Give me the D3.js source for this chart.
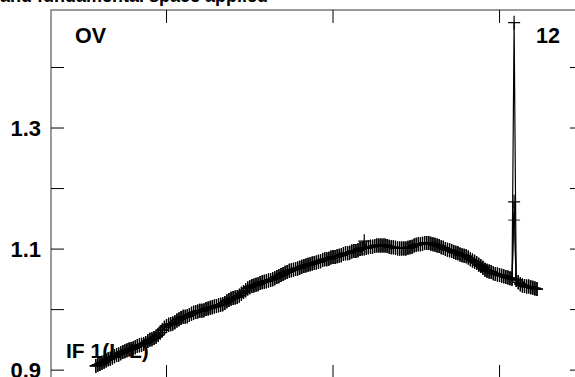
<!DOCTYPE html>
<html>
<head>
<meta charset="utf-8">
<script src="https://cdn.jsdelivr.net/npm/d3@7"></script>
<style>
    html, body { margin: 0; padding: 0; background: #fff; overflow: hidden; }
    text { font-family: "Liberation Sans", Arial, sans-serif; font-weight: bold; fill: #000; }
</style>
</head>
<body>
<div id="chart"></div>
<script>
// first channel on the x axis; one value per channel after that
const firstChannel = 46;

// ratio values (shared by the overlaid curves)
const ratio = [
    0.907, 0.909, 0.910, 0.912, 0.914, 0.916, 0.918, 0.919, 0.921, 0.923,
    0.925, 0.926, 0.928, 0.930, 0.931, 0.933, 0.934, 0.935, 0.936, 0.938,
    0.940, 0.941, 0.942, 0.943, 0.945, 0.948, 0.950, 0.951, 0.953, 0.955,
    0.958, 0.962, 0.966, 0.970, 0.973, 0.975, 0.976, 0.977, 0.979, 0.982,
    0.984, 0.986, 0.988, 0.988, 0.989, 0.991, 0.993, 0.995, 0.996, 0.997,
    0.998, 0.998, 0.999, 1.001, 1.002, 1.003, 1.004, 1.005, 1.006, 1.007,
    1.008, 1.009, 1.011, 1.014, 1.016, 1.018, 1.019, 1.020, 1.021, 1.023,
    1.026, 1.029, 1.032, 1.035, 1.037, 1.039, 1.040, 1.041, 1.042, 1.044,
    1.045, 1.046, 1.047, 1.048, 1.049, 1.050, 1.052, 1.054, 1.055, 1.057,
    1.059, 1.061, 1.062, 1.064, 1.065, 1.066, 1.067, 1.068, 1.069, 1.071,
    1.072, 1.073, 1.074, 1.075, 1.076, 1.077, 1.078, 1.079, 1.080, 1.082,
    1.083, 1.083, 1.084, 1.086, 1.087, 1.087, 1.088, 1.089, 1.090, 1.092,
    1.093, 1.093, 1.094, 1.096, 1.097, 1.097, 1.098, 1.100, 1.101, 1.101,
    1.102, 1.103, 1.104, 1.104, 1.105, 1.106, 1.106, 1.106, 1.106, 1.106,
    1.105, 1.104, 1.103, 1.103, 1.102, 1.101, 1.101, 1.101, 1.101, 1.101,
    1.102, 1.103, 1.104, 1.106, 1.107, 1.108, 1.108, 1.109, 1.110, 1.110,
    1.110, 1.109, 1.108, 1.107, 1.106, 1.105, 1.103, 1.102, 1.100, 1.099,
    1.098, 1.097, 1.095, 1.094, 1.093, 1.091, 1.090, 1.089, 1.088, 1.086,
    1.083, 1.081, 1.079, 1.077, 1.074, 1.072, 1.069, 1.066, 1.064, 1.063,
    1.062, 1.060, 1.059, 1.058, 1.057, 1.056, 1.055, 1.054, 1.053, 1.052,
    1.051, 1.050, 1.049, 1.045, 1.042, 1.040, 1.039, 1.038, 1.038, 1.037,
    1.036, 1.035, 1.034
];

// the three curves only differ where they jump away from the common values
const seriesNames = ["a", "b", "c"];
const seriesOverrides = [
    { 247: 1.474 },
    { 247: 1.178, 175: 1.113 },
    { 247: 1.148 }
];
const seriesColors = ["#000", "#000", "#555"];

const xTicks = [80, 160, 240];
const yTicks = [0.9, 1.0, 1.1, 1.2, 1.3, 1.4];
const yLabels = { 0.9: "0.9", 1.1: "1.1", 1.3: "1.3" };

const titleText = "and fundamental space applied";
const cornerLeft = "OV";
const cornerRight = "12";
const bottomNote = "IF 1(L-L)";

const width = 575, height = 377;
const margin = { top: 10, left: 51, right: -8, bottom: -1 };

const svg = d3.select("#chart").append("svg")
    .attr("width", width)
    .attr("height", height);

const x = d3.scaleLinear().domain([24.5, 280.1]).range([margin.left, width - margin.right]);
const y = d3.scaleLinear().domain([0.887, 1.495]).range([height - margin.bottom, margin.top]);

const x0 = margin.left, x1 = width - margin.right;
const y0 = margin.top, y1 = height - margin.bottom;

// title, mostly cut off at the top of the picture
svg.append("text")
    .attr("x", 0)
    .attr("y", 1.5)
    .style("font-size", "18px")
    .text(titleText);

// frame
svg.append("path")
    .attr("d", `M${x0},${y1}V${y0}H${x1}V${y1}H${x0}`)
    .attr("fill", "none")
    .attr("stroke", "#7a7a7a")
    .attr("stroke-width", 1.5);

// ticks pointing inwards on all four sides
const tickLen = 13;
const ticks = svg.append("g").attr("stroke", "#000").attr("stroke-width", 1);
xTicks.forEach(t => {
    ticks.append("line").attr("x1", x(t)).attr("x2", x(t)).attr("y1", y0).attr("y2", y0 + tickLen);
    ticks.append("line").attr("x1", x(t)).attr("x2", x(t)).attr("y1", y1).attr("y2", y1 - tickLen);
});
yTicks.forEach(t => {
    ticks.append("line").attr("x1", x0).attr("x2", x0 + tickLen).attr("y1", y(t)).attr("y2", y(t));
    ticks.append("line").attr("x1", x1).attr("x2", x1 - tickLen).attr("y1", y(t)).attr("y2", y(t));
});

// y labels
svg.append("g").selectAll("text")
    .data(yTicks.filter(t => yLabels[t]))
    .join("text")
    .attr("x", x0 - 10)
    .attr("y", d => y(d))
    .attr("dy", "0.36em")
    .attr("text-anchor", "end")
    .style("font-size", "22px")
    .text(d => yLabels[d]);

// curves with + markers
const line = d3.line().x(d => x(d.ch)).y(d => y(d.v));
const plus = "M-6,0H6M0,-7V7";

seriesNames.slice().reverse().forEach((name, k) => {
    const i = seriesNames.length - 1 - k;
    const pts = ratio.map((v, j) => {
        const ch = firstChannel + j;
        return { ch: ch, v: seriesOverrides[i][ch] !== undefined ? seriesOverrides[i][ch] : v };
    });
    const g = svg.append("g").attr("class", "series-" + name);

    g.append("path")
        .datum(pts)
        .attr("d", line)
        .attr("fill", "none")
        .attr("stroke", seriesColors[i])
        .attr("stroke-width", 1.2);

    g.selectAll("path.mark")
        .data(pts)
        .join("path")
        .attr("class", "mark")
        .attr("transform", d => `translate(${x(d.ch)},${y(d.v)})`)
        .attr("d", plus)
        .attr("fill", "none")
        .attr("stroke", seriesColors[i])
        .attr("stroke-width", 1.2);
});

// corner notes
svg.append("text").attr("x", 75).attr("y", 42.5).style("font-size", "21.5px").text(cornerLeft);
svg.append("text").attr("x", 536).attr("y", 42.5).style("font-size", "21.5px").text(cornerRight);
svg.append("text").attr("x", 66).attr("y", 358).style("font-size", "21px").text(bottomNote);
</script>
</body>
</html>
